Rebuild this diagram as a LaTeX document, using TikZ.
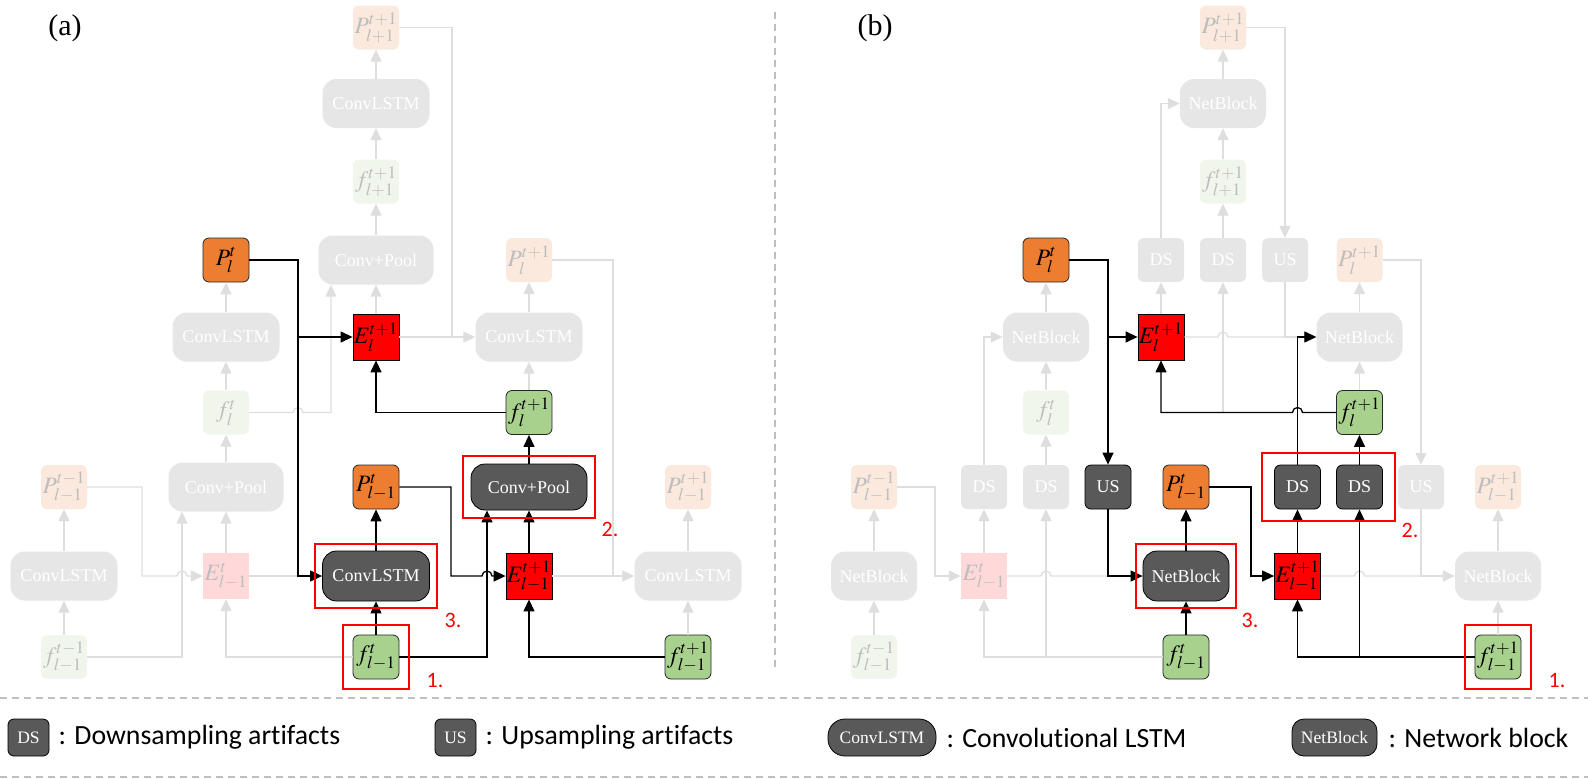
\documentclass[tikz,border=0pt]{standalone}
\usepackage{mathptmx}
\usepackage{fontspec}
\setmainfont{Liberation Serif}
\newfontfamily\legendfont[Ligatures=NoCommon]{Carlito}
\usetikzlibrary{arrows.meta,calc,fit,positioning}

\definecolor{porange}{HTML}{ED7D31}
\definecolor{fgreen}{HTML}{A9D18E}
\definecolor{blockgray}{HTML}{595959}
\definecolor{fadegray}{HTML}{E6E6E6}
\definecolor{pfadecol}{HTML}{FBE9DD}
\definecolor{ffadecol}{HTML}{F1F6EC}
\definecolor{efadecol}{HTML}{FFD9D9}
\definecolor{mathfade}{HTML}{BDBDBD}
\definecolor{linefade}{HTML}{DEDEDE}
\definecolor{sepgray}{HTML}{BFBFBF}

\tikzset{
  box/.style={inner sep=0pt, align=center, font=\fontsize{18}{18}\selectfont},
  bigbox/.style={box, minimum width=107pt, minimum height=49pt, rounded corners=14pt},
  smallbox/.style={box, minimum width=46pt, minimum height=44pt, rounded corners=6pt},
  mathbox/.style={smallbox, font=\fontsize{23.5}{23.5}\selectfont},
  fadefill/.style={fill=fadegray, text=white},
  darkfill/.style={fill=blockgray, draw=black, line width=0.8pt, text=white},
  pnode/.style={mathbox, fill=porange, draw=black!85, line width=0.8pt},
  fnode/.style={mathbox, fill=fgreen, draw=black!85, line width=0.8pt},
  enode/.style={mathbox, rounded corners=0pt, minimum height=46pt, fill=red, draw=black, line width=0.8pt},
  pfade/.style={mathbox, fill=pfadecol, text=mathfade},
  ffade/.style={mathbox, fill=ffadecol, text=mathfade},
  efade/.style={mathbox, rounded corners=0pt, minimum height=46pt, fill=efadecol, text=mathfade},
  link/.style={-{Triangle[length=12pt,width=11pt]}, line width=1.3pt, black},
  flink/.style={-{Triangle[length=12pt,width=11pt]}, line width=1.3pt, linefade},
  fline/.style={line width=1.3pt, linefade},
  redbox/.style={draw=red, line width=2pt, inner sep=8pt},
  numlbl/.style={text=red, inner sep=0pt, font=\legendfont\fontsize{22}{22}\selectfont},
  sep/.style={sepgray, line width=2pt, dash pattern=on 7pt off 5pt},
  legbox/.style={box, darkfill, minimum height=37pt, font=\fontsize{17.5}{18}\selectfont},
  legtxt/.style={inner sep=0pt, font=\legendfont\fontsize{27.8}{30}\selectfont},
  panel/.style={inner sep=0pt, font=\fontsize{30}{30}\selectfont}
}

\begin{document}
\begin{tikzpicture}[x=1pt,y=-1pt]
  \useasboundingbox (0,0) rectangle (1588,779);

  % ---------------- panel (a)
  \node[panel] (labA) at (65,28) {(a)};

  \node[pfade]                          (Pa1)  at (376,27.5)  {$P_{l+1}^{t+1}$};
  \node[bigbox, fadefill]               (CLa1) at (376,103.5) {ConvLSTM};
  \node[ffade]                          (fa1)  at (376,181.5) {$f_{l+1}^{t+1}$};
  \node[bigbox, fadefill, minimum width=115pt] (CPa1) at (376,260) {Conv+Pool};
  \node[pnode]                          (Pa2)  at (226,260)   {$P_{l}^{t}$};
  \node[pfade]                          (Pa3)  at (529,260)   {$P_{l}^{t+1}$};
  \node[bigbox, fadefill]               (CLa2) at (226,337)   {ConvLSTM};
  \node[enode]                          (Ea2)  at (376,337)   {$E_{l}^{t+1}$};
  \node[bigbox, fadefill]               (CLa3) at (529,337)   {ConvLSTM};
  \node[ffade]                          (fa2)  at (226,412.5) {$f_{l}^{t}$};
  \node[fnode]                          (fa3)  at (529,412.5) {$f_{l}^{t+1}$};
  \node[pfade]                          (Pa4)  at (64,487)    {$P_{l-1}^{t-1}$};
  \node[bigbox, fadefill, minimum width=115pt] (CPa2) at (226,487) {Conv+Pool};
  \node[pnode]                          (Pa5)  at (376,487)   {$P_{l-1}^{t}$};
  \node[bigbox, darkfill, minimum width=116pt, minimum height=46pt] (CPa3) at (529,487) {Conv+Pool};
  \node[pfade]                          (Pa6)  at (688,487)   {$P_{l-1}^{t+1}$};
  \node[bigbox, fadefill]               (CLa4) at (64,576)    {ConvLSTM};
  \node[efade]                          (Ea4)  at (226,576)   {$E_{l-1}^{t}$};
  \node[bigbox, darkfill, minimum height=50pt] (CLa5) at (376,576) {ConvLSTM};
  \node[enode]                          (Ea5)  at (529,576)   {$E_{l-1}^{t+1}$};
  \node[bigbox, fadefill]               (CLa6) at (688,576)   {ConvLSTM};
  \node[ffade]                          (fa4)  at (64,657)    {$f_{l-1}^{t-1}$};
  \node[fnode]                          (fa5)  at (376,657)   {$f_{l-1}^{t}$};
  \node[fnode]                          (fa6)  at (688,657)   {$f_{l-1}^{t+1}$};

  \coordinate (ka1) at (298,0);
  \coordinate (ka2) at (331,0);
  \coordinate (ka3) at (452,0);
  \coordinate (ka4) at (613,0);
  \coordinate (ka5) at (182,0);
  \coordinate (ka6) at (142,0);
  \coordinate (ka7) at (451,0);
  \coordinate (ka8) at (487,0);

  % faded links
  \draw[flink] (CLa1) -- (Pa1);
  \draw[flink] (fa1) -- (CLa1);
  \draw[flink] (CPa1) -- (fa1);
  \draw[flink] (Ea2) -- (CPa1);
  \draw[flink] (fa2.east) -- ($(ka1 |- fa2.east)+(-5,0)$) arc (180:360:5) -| (ka2 |- CPa1.south);
  \draw[flink] (Pa1.east) -| (ka3 |- CLa3.west) -- (CLa3.west);
  \draw[fline] (Ea2.east) -- (ka3 |- Ea2.east);
  \draw[flink] (fa3) -- (CLa3);
  \draw[flink] (CLa3) -- (Pa3);
  \draw[flink] (Pa3.east) -| (ka4 |- CLa6.west) -- (CLa6.west);
  \draw[fline] (Ea5.east) -- (ka4 |- Ea5.east);
  \draw[flink] (fa6) -- (CLa6);
  \draw[flink] (CLa6) -- (Pa6);
  \draw[flink] (CLa2) -- (Pa2);
  \draw[flink] (fa2) -- (CLa2);
  \draw[flink] (CPa2) -- (fa2);
  \draw[flink] (Ea4) -- (CPa2);
  \draw[flink] (CLa4) -- (Pa4);
  \draw[flink] (fa4) -- (CLa4);
  \draw[flink] (fa4.east) -| (ka5 |- CPa2.south);
  \draw[flink] (Pa4.east) -| (ka6 |- Ea4.west) -- ($(ka5 |- Ea4.west)+(-5,0)$) arc (180:360:5) -- (Ea4.west);
  \draw[fline] (Ea4.east) -- (ka1 |- Ea4.east);
  \draw[flink] (fa5.west) -| (Ea4.south);

  % highlighted links
  \draw[link] (Pa2.east) -| (ka1 |- CLa5.west) -- (CLa5.west);
  \draw[link] (ka1 |- Ea2.west) -- (Ea2.west);
  \draw[link] (fa5) -- (CLa5);
  \draw[link] (CLa5) -- (Pa5);
  \draw[link] (Pa5.east) -| (ka7 |- Ea5.west) -- ($(ka8 |- Ea5.west)+(-5,0)$) arc (180:360:5) -- (Ea5.west);
  \draw[link] (fa5.east) -| (ka8 |- CPa3.south);
  \draw[link] (Ea5) -- (CPa3);
  \draw[link] (CPa3) -- (fa3);
  \draw[link] (fa3.west) -| (Ea2.south);
  \draw[link] (fa6.west) -| (Ea5.south);

  \node[redbox, inner sep=7pt, fit=(CLa5)] (rA3) {};
  \node[redbox, inner sep=10pt, fit=(fa5)] (rA1) {};
  \node[redbox, fit=(CPa3)] (rA2) {};
  \node[numlbl] (nA3) at (453,620) {3.};
  \node[numlbl] (nA1) at (435,680) {1.};
  \node[numlbl] (nA2) at (610,529) {2.};

  % ---------------- panel (b)
  \node[panel] (labB) at (875,28) {(b)};

  \node[pfade]                          (Pb1)  at (1223,27.5)  {$P_{l+1}^{t+1}$};
  \node[bigbox, fadefill, minimum width=86pt] (NBb1) at (1223,103.5) {NetBlock};
  \node[ffade]                          (fb1)  at (1223,181.5) {$f_{l+1}^{t+1}$};
  \node[pnode]                          (Pb2)  at (1046,260)   {$P_{l}^{t}$};
  \node[smallbox, fadefill]             (DSb1) at (1161,260)   {DS};
  \node[smallbox, fadefill]             (DSb2) at (1223,260)   {DS};
  \node[smallbox, fadefill]             (USb1) at (1285,260)   {US};
  \node[pfade]                          (Pb3)  at (1359.5,260) {$P_{l}^{t+1}$};
  \node[bigbox, fadefill, minimum width=86pt] (NBb2) at (1046,337) {NetBlock};
  \node[enode]                          (Eb2)  at (1161,337)   {$E_{l}^{t+1}$};
  \node[bigbox, fadefill, minimum width=86pt] (NBb3) at (1359.5,337) {NetBlock};
  \node[ffade]                          (fb2)  at (1046,412.5) {$f_{l}^{t}$};
  \node[fnode]                          (fb3)  at (1359.5,412.5) {$f_{l}^{t+1}$};
  \node[pfade]                          (Pb4)  at (874,487)    {$P_{l-1}^{t-1}$};
  \node[smallbox, fadefill]             (DSb3) at (984,487)    {DS};
  \node[smallbox, fadefill]             (DSb4) at (1046,487)   {DS};
  \node[smallbox, darkfill]             (USb2) at (1108,487)   {US};
  \node[pnode]                          (Pb5)  at (1186,487)   {$P_{l-1}^{t}$};
  \node[smallbox, darkfill]             (DSb5) at (1297.5,487) {DS};
  \node[smallbox, darkfill]             (DSb6) at (1359.5,487) {DS};
  \node[smallbox, fadefill]             (USb3) at (1421,487)   {US};
  \node[pfade]                          (Pb6)  at (1498,487)   {$P_{l-1}^{t+1}$};
  \node[bigbox, fadefill, minimum width=86pt] (NBb4) at (874,576) {NetBlock};
  \node[efade]                          (Eb4)  at (984,576)    {$E_{l-1}^{t}$};
  \node[bigbox, darkfill, minimum width=86pt, minimum height=50pt] (NBb5) at (1186,576) {NetBlock};
  \node[enode]                          (Eb5)  at (1297.5,576) {$E_{l-1}^{t+1}$};
  \node[bigbox, fadefill, minimum width=86pt] (NBb6) at (1498,576) {NetBlock};
  \node[ffade]                          (fb4)  at (874,657)    {$f_{l-1}^{t-1}$};
  \node[fnode]                          (fb5)  at (1186,657)   {$f_{l-1}^{t}$};
  \node[fnode]                          (fb6)  at (1498,657)   {$f_{l-1}^{t+1}$};

  \coordinate (kb1) at (935,0);
  \coordinate (kb2) at (1251,0);

  % faded links
  \draw[flink] (NBb1) -- (Pb1);
  \draw[flink] (fb1) -- (NBb1);
  \draw[flink] (DSb2) -- (fb1);
  \draw[flink] (DSb1.north) |- (NBb1.west);
  \draw[flink] (Pb1.east) -| (USb1.north);
  \draw[flink] (Eb2) -- (DSb1);
  \draw[flink] (NBb2) -- (Pb2);
  \draw[flink] (fb2) -- (NBb2);
  \draw[flink] (DSb4) -- (fb2);
  \draw[flink] (DSb3.north) |- (NBb2.west);
  \draw[flink] (Eb4) -- (DSb3);
  \draw[flink] (Eb2.east) -- ($(DSb2 |- Eb2.east)+(-5,0)$) arc (180:360:5) -- (NBb3.west);
  \draw[fline] (USb1.south) |- (NBb3.west);
  \draw[flink] (DSb2 |- fb3.west) -- (DSb2.south);
  \draw[flink] (fb3) -- (NBb3);
  \draw[flink] (NBb3) -- (Pb3);
  \draw[flink] (Pb3.east) -| (USb3.north);
  \draw[flink] (USb3.south) |- (NBb6.west);
  \draw[fline] (Eb5.east) -- ($(DSb6 |- Eb5.east)+(-5,0)$) arc (180:360:5) -- (USb3 |- Eb5.east);
  \draw[flink] (fb6) -- (NBb6);
  \draw[flink] (NBb6) -- (Pb6);
  \draw[flink] (NBb4) -- (Pb4);
  \draw[flink] (fb4) -- (NBb4);
  \draw[flink] (Pb4.east) -| (kb1 |- Eb4.west) -- (Eb4.west);
  \draw[fline] (Eb4.east) -- ($(DSb4 |- Eb4.east)+(-5,0)$) arc (180:360:5) -- (USb2 |- Eb4.east);
  \draw[flink] (fb5.west) -| (Eb4.south);
  \draw[flink] (DSb4 |- fb5.west) -- (DSb4.south);

  % highlighted links
  \draw[link] (Pb2.east) -| (USb2.north);
  \draw[link] (USb2 |- Eb2.west) -- (Eb2.west);
  \draw[link] (USb2.south) |- (NBb5.west);
  \draw[link] (fb5) -- (NBb5);
  \draw[link] (NBb5) -- (Pb5);
  \draw[link] (Pb5.east) -| (kb2 |- Eb5.west) -- (Eb5.west);
  \draw[link] (Eb5) -- (DSb5);
  \draw[link] (DSb5.north) |- (NBb3.west);
  \draw[link] (DSb6) -- (fb3);
  \draw[link] (fb3.west) -- ($(DSb5 |- fb3.west)+(5,0)$) arc (0:-180:5) -| (Eb2.south);
  \draw[link] (fb6.west) -| (Eb5.south);
  \draw[link] (DSb6 |- fb6.west) -- (DSb6.south);

  \node[redbox, inner sep=7pt, fit=(NBb5)] (rB3) {};
  \node[redbox, inner sep=12pt, fit=(DSb5) (DSb6)] (rB2) {};
  \node[redbox, inner sep=10pt, fit=(fb6)] (rB1) {};
  \node[numlbl] (nB3) at (1250,620) {3.};
  \node[numlbl] (nB2) at (1410,530) {2.};
  \node[numlbl] (nB1) at (1557,680) {1.};

  % ---------------- separators and legend
  \draw[sep] (775,12) -- (775,668);
  \draw[sep] (0,698) -- (1588,698);
  \draw[sep] (0,777) -- (1588,777);

  \node[legbox, minimum width=41pt, rounded corners=6pt] (lgDS) at (28.5,737.5) {DS};
  \node[legtxt, right=9pt of lgDS] (lgDStxt) {: Downsampling artifacts};
  \node[legbox, minimum width=41pt, rounded corners=6pt] (lgUS) at (455.5,737.5) {US};
  \node[legtxt, right=9pt of lgUS] (lgUStxt) {: Upsampling artifacts};
  \node[legbox, minimum width=108pt, rounded corners=17pt] (lgCL) at (882,737.5) {ConvLSTM};
  \node[legtxt, right=10pt of lgCL] (lgCLtxt) {: Convolutional LSTM};
  \node[legbox, minimum width=85pt, rounded corners=12pt] (lgNB) at (1334.5,737.5) {NetBlock};
  \node[legtxt, right=11pt of lgNB] (lgNBtxt) {: Network block};
\end{tikzpicture}
\end{document}
